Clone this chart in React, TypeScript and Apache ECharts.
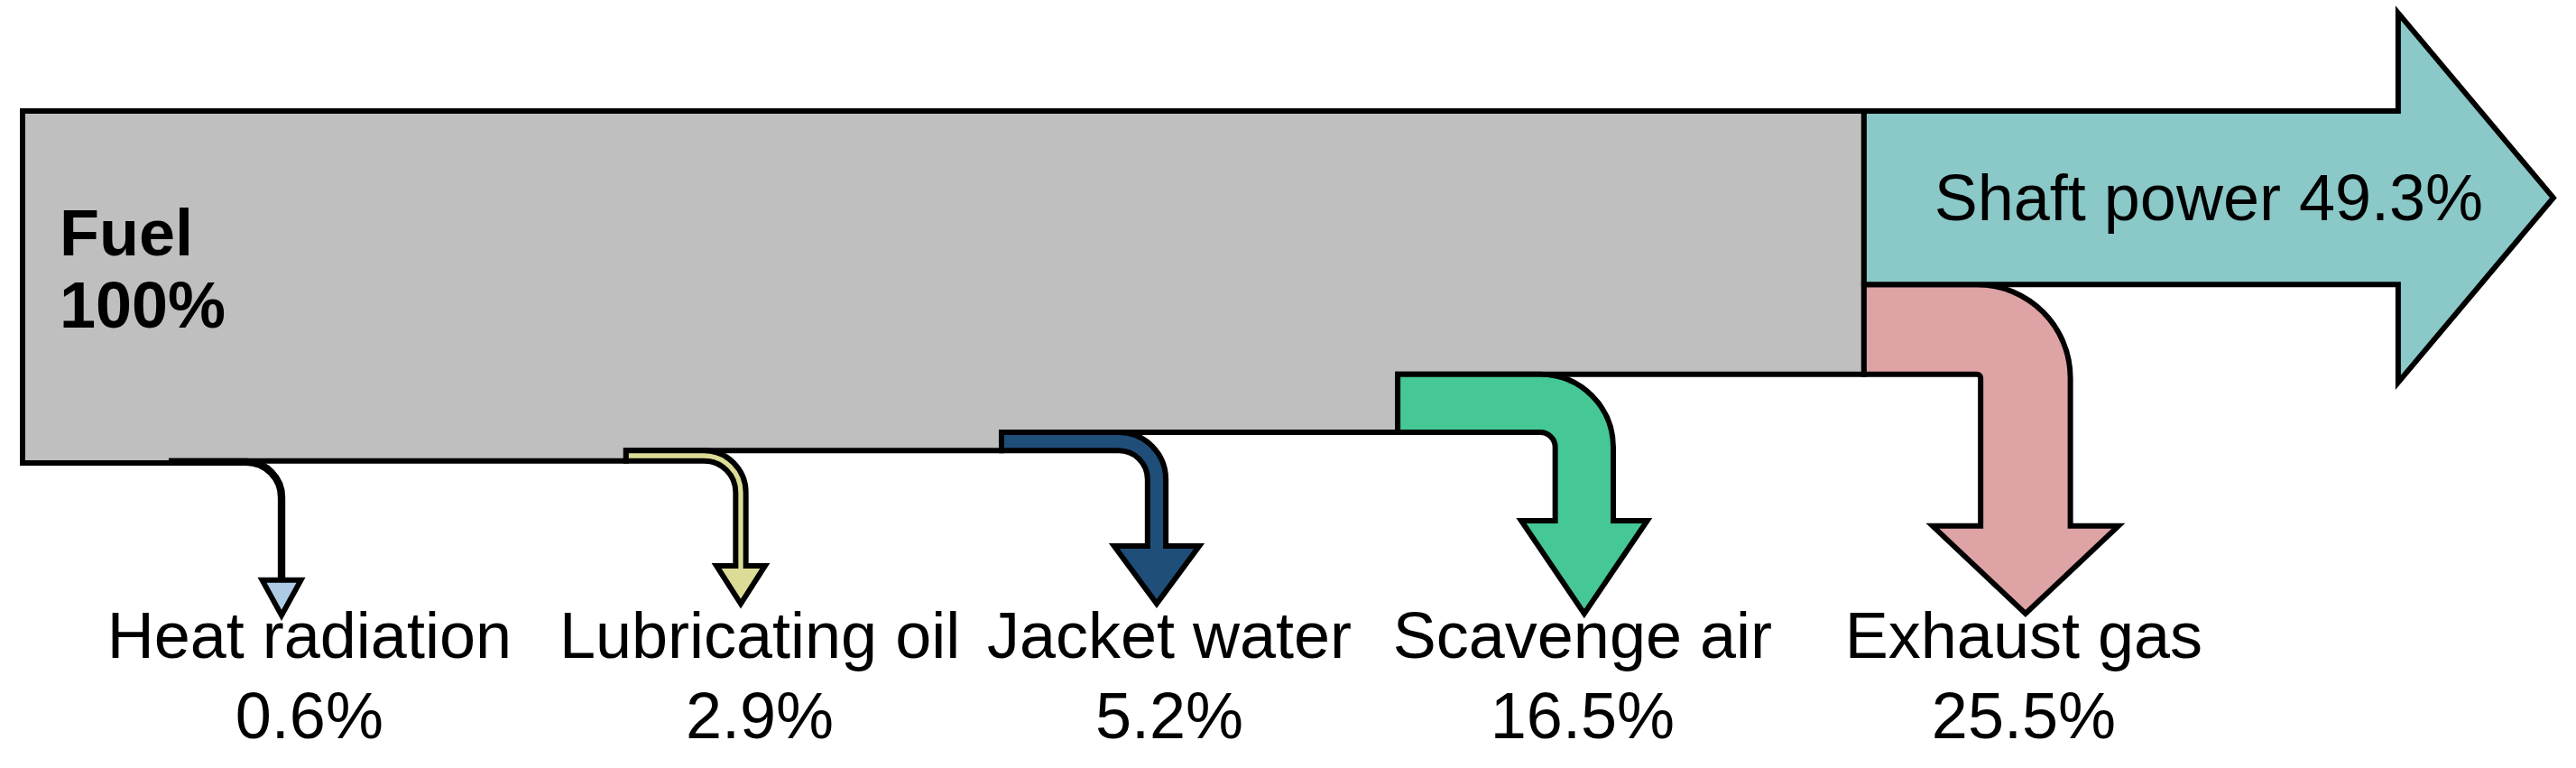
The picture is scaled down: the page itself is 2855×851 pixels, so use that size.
import React, { useEffect, useRef } from 'react';
import * as echarts from 'echarts';

// ---------------- data ----------------
const fuelName = 'Fuel';
const fuelValue = 100;
const flowNames = ['Heat radiation', 'Lubricating oil', 'Jacket water', 'Scavenge air', 'Exhaust gas', 'Shaft power'];
const flowValues = [0.6, 2.9, 5.2, 16.5, 25.5, 49.3];

// ---------------- colours ----------------
const trunkColor = '#bfbfbf';
const flowColors = ['#aecbe6', '#dcdc96', '#1f4e79', '#45c896', '#dea3a5', '#8bc8c8'];
const edgeColor = '#000000';

// ---------------- layout (flow units: 1 unit = 1 % of fuel) ----------------
const UNIT_PX = 3.9;
const ORIGIN_PX = { x: 25, y: 123 };
const X_MIN = 0;
const X_MAX = 725;
const Y_MIN = -30;
const Y_MAX = 180;
const stepX = [42.3, 171.5, 278.2, 390.8]; // where side flows leave the trunk
const trunkEndX = 523.3;
const tipX = [73.6, 204.1, 322.3, 443.8, 569.2, 719.2];
const tipY = [143.3, 140, 140, 142.8, 142.8];
const headHalf = [5.5, 6.9, 12.1, 17.9, 26.4, 52.5];
const headLen = [10, 10.8, 16.4, 26.4, 24.9, 44.1];
const labelX = [81.5, 209.5, 325.9, 443.3, 568.7];
const labelLineY = [149.1, 171.9];
const fuelLabelPos = { x: 10.5, y1: 34.6, y2: 55.1 };
const FONT = '"Liberation Sans", Arial, Helvetica, sans-serif';
const FONT_SIZE = 72;
const LINE_W = 6;
const K = 0.5523;

function fmt(v: number) {
  return String(v) + '%';
}

function renderItem(params: any, api: any) {
  const i = params.dataIndex;
  const c = (x: number, y: number) => {
    const p = api.coord([x, y]);
    return p[0].toFixed(2) + ',' + p[1].toFixed(2);
  };
  const P = (x: number, y: number) => api.coord([x, y]);
  const edgeStyle = { stroke: edgeColor, lineWidth: LINE_W, lineJoin: 'miter', miterLimit: 10 };
  // bottom of trunk before each down flow leaves
  const before: number[] = [];
  let rem = fuelValue;
  for (let k = 0; k < 5; k++) {
    before.push(rem);
    rem -= flowValues[k];
  }
  const textStyle = (text: string, bold: boolean, align: string) => ({
    text,
    fill: '#000',
    fontSize: FONT_SIZE,
    fontFamily: FONT,
    fontWeight: bold ? 'bold' : 'normal',
    align,
    verticalAlign: 'middle',
  });

  if (i === 0) {
    // trunk
    const pts: number[][] = [[0, 0], [trunkEndX, 0], [trunkEndX, before[4]]];
    for (let k = 3; k >= 0; k--) {
      pts.push([stepX[k], before[k] - flowValues[k]]);
      pts.push([stepX[k], before[k]]);
    }
    pts.push([0, fuelValue]);
    const d = 'M' + pts.map((p) => c(p[0], p[1])).join(' L') + ' Z';
    const t1 = P(fuelLabelPos.x, fuelLabelPos.y1);
    const t2 = P(fuelLabelPos.x, fuelLabelPos.y2);
    return {
      type: 'group',
      children: [
        { type: 'path', shape: { pathData: d }, style: { fill: trunkColor, ...edgeStyle } },
        { type: 'text', x: t1[0], y: t1[1], style: textStyle(fuelName, true, 'left') },
        { type: 'text', x: t2[0], y: t2[1], style: textStyle(fmt(fuelValue), true, 'left') },
      ],
    };
  }
  const k = i - 1;
  const w = flowValues[k];
  if (k === 5) {
    // shaft power: straight arrow to the right
    const mid = w / 2;
    const hb = tipX[k] - headLen[k];
    const hw = headHalf[k];
    const d =
      `M${c(trunkEndX, 0)} L${c(hb, 0)} L${c(hb, mid - hw)} L${c(tipX[k], mid)} ` +
      `L${c(hb, mid + hw)} L${c(hb, w)} L${c(trunkEndX, w)} Z`;
    const tp = P((trunkEndX + tipX[k]) / 2, mid);
    return {
      type: 'group',
      children: [
        { type: 'path', shape: { pathData: d }, style: { fill: flowColors[k], ...edgeStyle } },
        { type: 'text', x: tp[0], y: tp[1], style: textStyle(flowNames[k] + ' ' + fmt(w), false, 'center') },
      ],
    };
  }
  // down flows
  const xs = k < 4 ? stepX[k] : trunkEndX;
  const b = before[k];
  const cx = tipX[k];
  const ty = tipY[k];
  const hw = headHalf[k];
  const hl = headLen[k];
  const r = Math.max(1, 10 - 0.35 * w);
  const xl = cx - w / 2;
  const xr = cx + w / 2;
  const xc = xl - r;
  const yc = b + r;
  const R = r + w;
  const ys = ty - hl;
  const d =
    `M${c(xs, b - w)} L${c(xc, b - w)} C${c(xc + K * R, b - w)} ${c(xr, yc - K * R)} ${c(xr, yc)} ` +
    `L${c(xr, ys)} L${c(cx + hw, ys)} L${c(cx, ty)} L${c(cx - hw, ys)} L${c(xl, ys)} L${c(xl, yc)} ` +
    `C${c(xl, yc - K * r)} ${c(xc + K * r, b)} ${c(xc, b)} L${c(xs, b)} Z`;
  const l1 = P(labelX[k], labelLineY[0]);
  const l2 = P(labelX[k], labelLineY[1]);
  return {
    type: 'group',
    children: [
      { type: 'path', shape: { pathData: d }, style: { fill: flowColors[k], ...edgeStyle } },
      { type: 'text', x: l1[0], y: l1[1], style: textStyle(flowNames[k], false, 'center') },
      { type: 'text', x: l2[0], y: l2[1], style: textStyle(fmt(w), false, 'center') },
    ],
  };
}

export default function App() {
  const ref = useRef<HTMLDivElement>(null);
  useEffect(() => {
    if (!ref.current) return;
    const chart = echarts.init(ref.current, null, { renderer: 'svg' });
    const items = [[0, 0], ...flowValues.map((_, j) => [j + 1, 0])];
    chart.setOption({
      animation: false,
      backgroundColor: '#ffffff',
      grid: {
        left: ORIGIN_PX.x + X_MIN * UNIT_PX,
        top: ORIGIN_PX.y + Y_MIN * UNIT_PX,
        width: (X_MAX - X_MIN) * UNIT_PX,
        height: (Y_MAX - Y_MIN) * UNIT_PX,
      },
      xAxis: { type: 'value', min: X_MIN, max: X_MAX, show: false },
      yAxis: { type: 'value', min: Y_MIN, max: Y_MAX, inverse: true, show: false },
      series: [
        {
          type: 'custom',
          coordinateSystem: 'cartesian2d',
          data: items,
          renderItem,
          clip: false,
          silent: true,
        },
      ],
    });
    return () => chart.dispose();
  }, []);
  return (
    <div
      ref={ref}
      style={{ position: 'fixed', left: 0, top: 0, width: 2855, height: 851, background: '#fff' }}
    />
  );
}
